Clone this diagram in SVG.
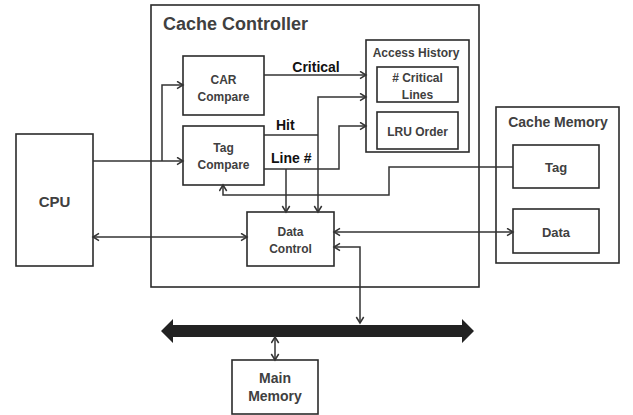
<svg xmlns="http://www.w3.org/2000/svg" width="633" height="415" viewBox="0 0 633 415">
<style>
.box{fill:#fff;stroke:#2b2b2b;stroke-width:1.6}
.t{font-family:"Liberation Sans",Arial,sans-serif;font-weight:bold;fill:#404040;text-anchor:middle;font-size:12px}
.lbl{font-family:"Liberation Sans",Arial,sans-serif;font-weight:bold;fill:#111;font-size:14px}
.c{fill:none;stroke:#333;stroke-width:1.5}
</style>
<defs>
<marker id="ah" markerUnits="userSpaceOnUse" markerWidth="10" markerHeight="10" refX="7" refY="4.5" orient="auto-start-reverse">
<path d="M1,0.8 L7,4.5 L1,8.2" fill="none" stroke="#333" stroke-width="1.5"/>
</marker>
</defs>
<rect width="633" height="415" fill="#fff"/>
<g id="cache-controller">
<rect class="box" x="151" y="5" width="328" height="282"/>
<text x="163" y="30" class="t" style="font-size:18px;text-anchor:start">Cache Controller</text>
</g>
<g id="cache-memory">
<rect class="box" x="496" y="107" width="123" height="156"/>
<text x="558" y="127" class="t" style="font-size:14px">Cache Memory</text>
</g>
<g id="access-history">
<rect class="box" x="366" y="40" width="103" height="112"/>
<text x="416" y="57" class="t">Access History</text>
</g>
<g id="critical-lines">
<rect class="box" x="377" y="67" width="81" height="35"/>
<text x="417.5" y="82" class="t">#  Critical</text>
<text x="417.5" y="99" class="t">Lines</text>
</g>
<g id="lru-order">
<rect class="box" x="377" y="112" width="81" height="37"/>
<text x="417.5" y="136" class="t">LRU Order</text>
</g>
<g id="car-compare">
<rect class="box" x="183" y="56" width="81" height="59"/>
<text x="223.5" y="84" class="t">CAR</text>
<text x="223.5" y="101" class="t">Compare</text>
</g>
<g id="tag-compare">
<rect class="box" x="183" y="126" width="81" height="59"/>
<text x="223.5" y="152" class="t">Tag</text>
<text x="223.5" y="169" class="t">Compare</text>
</g>
<g id="data-control">
<rect class="box" x="247" y="212" width="87" height="54"/>
<text x="290.5" y="236" class="t">Data</text>
<text x="290.5" y="253" class="t">Control</text>
</g>
<g id="cpu">
<rect class="box" x="16" y="134" width="77" height="132"/>
<text x="54.5" y="207" class="t" style="font-size:15px">CPU</text>
</g>
<g id="tag">
<rect class="box" x="513" y="145" width="86" height="43"/>
<text x="556" y="172" class="t" style="font-size:13px">Tag</text>
</g>
<g id="data">
<rect class="box" x="513" y="209" width="86" height="44"/>
<text x="556" y="237" class="t" style="font-size:13px">Data</text>
</g>
<g id="main-memory">
<rect class="box" x="232" y="360" width="86" height="54"/>
<text x="275" y="383" class="t" style="font-size:14px">Main</text>
<text x="275" y="401" class="t" style="font-size:14px">Memory</text>
</g>
<g id="bus">
<polygon points="161,331 173,319 173,325 462,325 462,319 474,331 462,343 462,337 173,337 173,343" fill="#222"/>
</g>
<g id="connectors">
<path class="c" d="M93,161 H183" marker-end="url(#ah)"/>
<path class="c" d="M162,161 V85 H183" marker-end="url(#ah)"/>
<path class="c" d="M264,75 H366" marker-end="url(#ah)"/>
<path class="c" d="M264,135 H318"/>
<path class="c" d="M366,97 H318 V212" marker-start="url(#ah)" marker-end="url(#ah)"/>
<path class="c" d="M264,169 H339 V126 H366" marker-end="url(#ah)"/>
<path class="c" d="M286,169 V212" marker-end="url(#ah)"/>
<path class="c" d="M513,167 H389 V195 H223 V185" marker-end="url(#ah)"/>
<path class="c" d="M93,237 H247" marker-start="url(#ah)" marker-end="url(#ah)"/>
<path class="c" d="M334,232 H513" marker-start="url(#ah)" marker-end="url(#ah)"/>
<path class="c" d="M360,323 V247 H334" marker-start="url(#ah)" marker-end="url(#ah)"/>
<path class="c" d="M275,337 V360" marker-start="url(#ah)" marker-end="url(#ah)"/>
<text x="316" y="72" class="lbl" text-anchor="middle">Critical</text>
<text x="276" y="130" class="lbl">Hit</text>
<text x="271" y="163" class="lbl">Line #</text>
</g>
</svg>
